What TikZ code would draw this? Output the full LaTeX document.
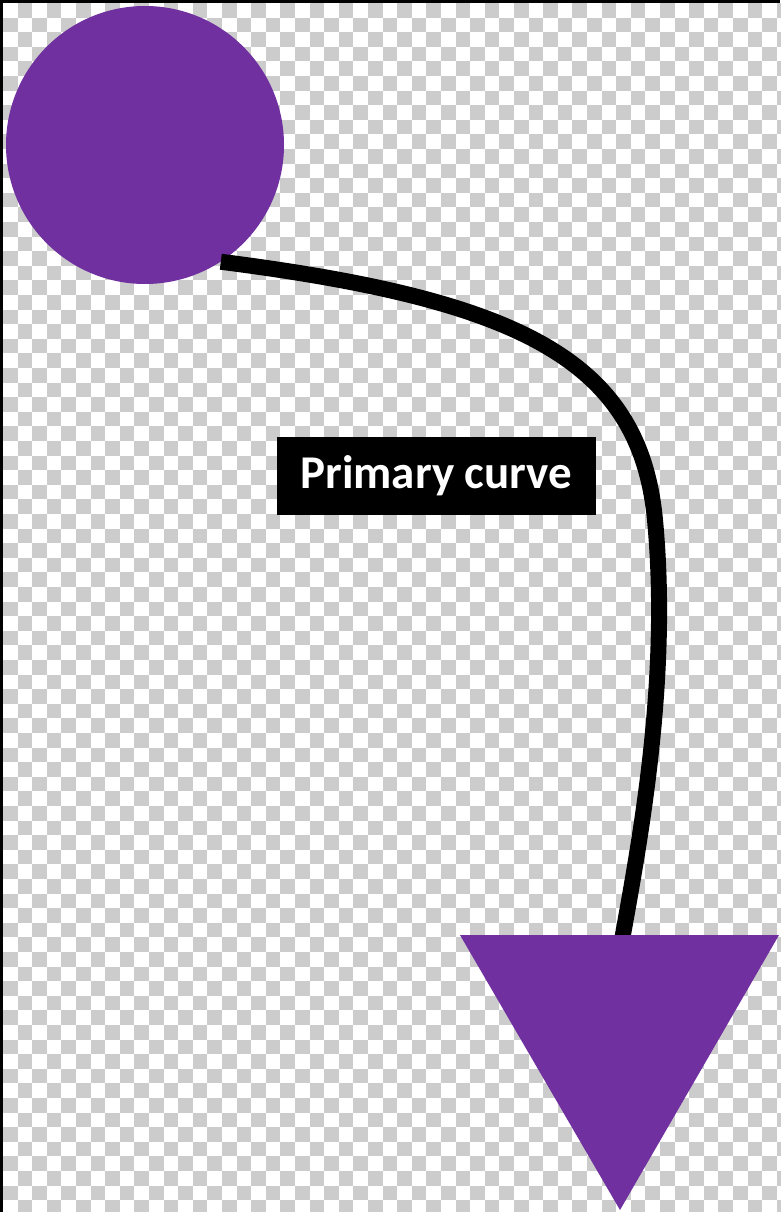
\documentclass[tikz,border=0pt]{standalone}
\usepackage{fontspec}
\setsansfont{Carlito}
\definecolor{viola}{HTML}{7030A0}
\definecolor{griglia}{HTML}{CCCCCC}
\begin{document}
\begin{tikzpicture}[x=1pt,y=-1pt,
    forma/.style={fill=viola,draw=none},
    etichetta/.style={fill=black,text=white,font=\sffamily\bfseries\fontsize{47}{50}\selectfont,
                      minimum width=319pt,minimum height=78pt,inner sep=0pt}]
        \useasboundingbox (0,0) rectangle (780,1212);
        % --- sfondo a scacchi ---
        \fill[white] (0,0) rectangle (780,1212);
        \foreach \i in {0,...,53}
          \foreach \j in {0,...,83}{
            \ifodd\numexpr\i+\j\relax
              \fill[griglia] (3+\i*14.6,3+\j*14.6) rectangle ++(14.6,14.6);
            \fi}
        \fill[black] (0,0) rectangle (3,1212);
        \fill[black] (0,0) rectangle (780,3);
        % --- cerchio di partenza ---
        \node[forma,circle,minimum size=278pt,inner sep=0pt] (sorgente) at (145,145) {};
        % --- triangolo di arrivo ---
        \coordinate (vertA) at (460,935);
        \coordinate (vertB) at (779,935);
        \coordinate (punta) at (620,1210);
        \coordinate (arrivo) at (622,940);
        % --- curva principale ---
        \draw[line width=16pt] (sorgente.-57) .. controls (520,300) and (640,360) .. (655,520)
              .. controls (670,680) and (640,840) .. (arrivo);
        \fill[viola] (vertA) -- (vertB) -- (punta) -- cycle;
        % --- etichetta ---
        \node[etichetta] (nome) at (436.5,476) {Primary curve};
    \end{tikzpicture}
\end{document}
